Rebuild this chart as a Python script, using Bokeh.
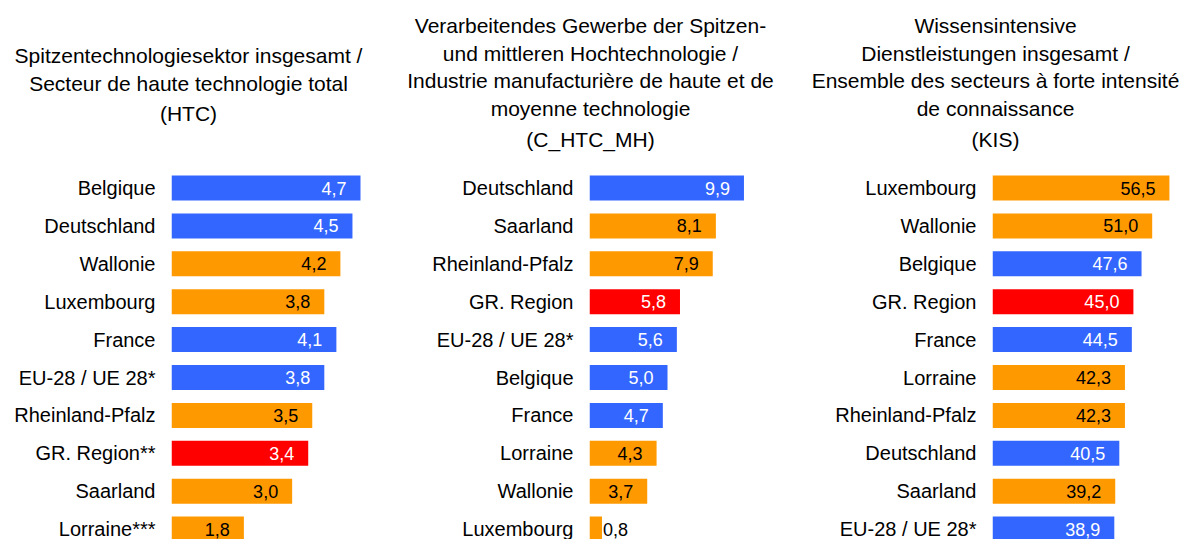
from bokeh.plotting import figure
from bokeh.layouts import row, column
from bokeh.models import ColumnDataSource, Range1d, FixedTicker
from bokeh.embed import file_html
from bokeh.resources import INLINE
from bokeh.core.properties import value

FONT = "Liberation Sans"
COLORS = {"nat": "#3366FF", "reg": "#FF9900", "gr": "#FF0000"}
TEXT_COLORS = {"nat": "#FFFFFF", "reg": "#000000", "gr": "#FFFFFF"}

# ---------------- data ----------------
htc_title = ["Spitzentechnologiesektor insgesamt /",
             "Secteur de haute technologie total",
             "(HTC)"]
htc_labels = ["Belgique", "Deutschland", "Wallonie", "Luxembourg", "France",
              "EU-28 / UE 28*", "Rheinland-Pfalz", "GR. Region**", "Saarland", "Lorraine***"]
htc_values = [4.7, 4.5, 4.2, 3.8, 4.1, 3.8, 3.5, 3.4, 3.0, 1.8]
htc_kind = ["nat", "nat", "reg", "reg", "nat", "nat", "reg", "gr", "reg", "reg"]

mh_title = ["Verarbeitendes Gewerbe der Spitzen-",
            "und mittleren Hochtechnologie /",
            "Industrie manufacturière de haute et de",
            "moyenne technologie",
            "(C_HTC_MH)"]
mh_labels = ["Deutschland", "Saarland", "Rheinland-Pfalz", "GR. Region", "EU-28 / UE 28*",
             "Belgique", "France", "Lorraine", "Wallonie", "Luxembourg"]
mh_values = [9.9, 8.1, 7.9, 5.8, 5.6, 5.0, 4.7, 4.3, 3.7, 0.8]
mh_kind = ["nat", "reg", "reg", "gr", "nat", "nat", "nat", "reg", "reg", "reg"]

kis_title = ["Wissensintensive",
             "Dienstleistungen insgesamt /",
             "Ensemble des secteurs à forte intensité",
             "de connaissance",
             "(KIS)"]
kis_labels = ["Luxembourg", "Wallonie", "Belgique", "GR. Region", "France",
              "Lorraine", "Rheinland-Pfalz", "Deutschland", "Saarland", "EU-28 / UE 28*"]
kis_values = [56.5, 51.0, 47.6, 45.0, 44.5, 42.3, 42.3, 40.5, 39.2, 38.9]
kis_kind = ["reg", "reg", "nat", "gr", "nat", "reg", "reg", "nat", "reg", "nat"]

# ---------------- layout constants (page pixels) ----------------
ORIGIN = 1                 # page offset of the layout
TOTAL_W = 1183
TITLE_H = 155
PANEL_H = 384
FRAME_TOP = ORIGIN + TITLE_H
FRAME_BOTTOM = FRAME_TOP + PANEL_H
ROW0 = 188.5
STEP = 37.9
TITLE_SHIFT = -6

# ---------------- titles ----------------
tf = figure(width=TOTAL_W, height=TITLE_H, output_backend="svg", toolbar_location=None,
            x_range=Range1d(0, TOTAL_W), y_range=Range1d(TITLE_H, 0),
            x_axis_location=None, y_axis_location=None,
            min_border_left=0, min_border_right=0, min_border_top=0, min_border_bottom=0,
            outline_line_color=None)
tf.grid.visible = False
title_sets = [(htc_title, 189, [62, 90, 120]),
              (mh_title, 591, [32, 60, 87, 115, 146]),
              (kis_title, 996, [32, 60, 87, 115, 146])]
tx, ty, tt = [], [], []
for lines, cx, bases in title_sets:
    for line, b in zip(lines, bases):
        tx.append(cx - ORIGIN)
        ty.append(b - ORIGIN + TITLE_SHIFT)
        tt.append(line)
tf.text(x="x", y="y", text="t", source=ColumnDataSource(dict(x=tx, y=ty, t=tt)),
        text_align="center", text_baseline="alphabetic", text_color="#000000",
        text_font=value(FONT), text_font_size="21px")


def panel(labels, values, kind, width, border_left, x_end):
    n = len(labels)
    frame_w = width - border_left
    y_start = (FRAME_BOTTOM - ROW0) / STEP
    y_end = -(ROW0 - FRAME_TOP) / STEP
    p = figure(width=width, height=PANEL_H, output_backend="svg", toolbar_location=None,
               x_range=Range1d(0, x_end), y_range=Range1d(y_start, y_end),
               x_axis_location=None, min_border_left=border_left, min_border_right=0,
               min_border_top=0, min_border_bottom=0,
               outline_line_color=None)
    p.grid.visible = False
    ys = list(range(n))
    txt = [f"{v:.1f}".replace(".", ",") for v in values]
    src = ColumnDataSource(dict(y=ys, v=values, color=[COLORS[k] for k in kind]))
    p.hbar(y="y", left=0, right="v", height=0.66, fill_color="color", line_color=None,
           source=src)

    # value labels: inside the bar end, or just outside for very short bars
    px = [v / x_end * frame_w for v in values]
    ins = [i for i in range(n) if px[i] >= 40]
    outs = [i for i in range(n) if px[i] < 40]
    if ins:
        s_in = ColumnDataSource(dict(y=[ys[i] for i in ins], v=[values[i] for i in ins],
                                     txt=[txt[i] for i in ins],
                                     tcolor=[TEXT_COLORS[kind[i]] for i in ins]))
        p.text(x="v", y="y", text="txt", source=s_in, text_align="right",
               text_baseline="middle", x_offset=-14, text_color="tcolor",
               text_font=value(FONT), text_font_size="18px")
    if outs:
        s_out = ColumnDataSource(dict(y=[ys[i] for i in outs], v=[values[i] for i in outs],
                                      txt=[txt[i] for i in outs]))
        p.text(x="v", y="y", text="txt", source=s_out, text_align="left",
               text_baseline="middle", x_offset=1, text_color="#000000",
               text_font=value(FONT), text_font_size="18px")

    ax = p.yaxis[0]
    ax.ticker = FixedTicker(ticks=ys)
    ax.major_label_overrides = {i: lab for i, lab in zip(ys, labels)}
    ax.axis_line_color = None
    ax.major_tick_line_color = None
    ax.minor_tick_line_color = None
    ax.major_tick_out = 0
    ax.major_tick_in = 0
    ax.major_label_standoff = 16
    ax.major_label_text_font = FONT
    ax.major_label_text_font_size = "20px"
    ax.major_label_text_color = "#000000"
    return p


p1 = panel(htc_labels, htc_values, htc_kind, width=397, border_left=171, x_end=5.62)
p2 = panel(mh_labels, mh_values, mh_kind, width=402, border_left=192, x_end=13.46)
p3 = panel(kis_labels, kis_values, kis_kind, width=384, border_left=193, x_end=61.0)

layout = column(tf, row(p1, p2, p3))
open("out.html", "w").write(file_html(layout, INLINE))
